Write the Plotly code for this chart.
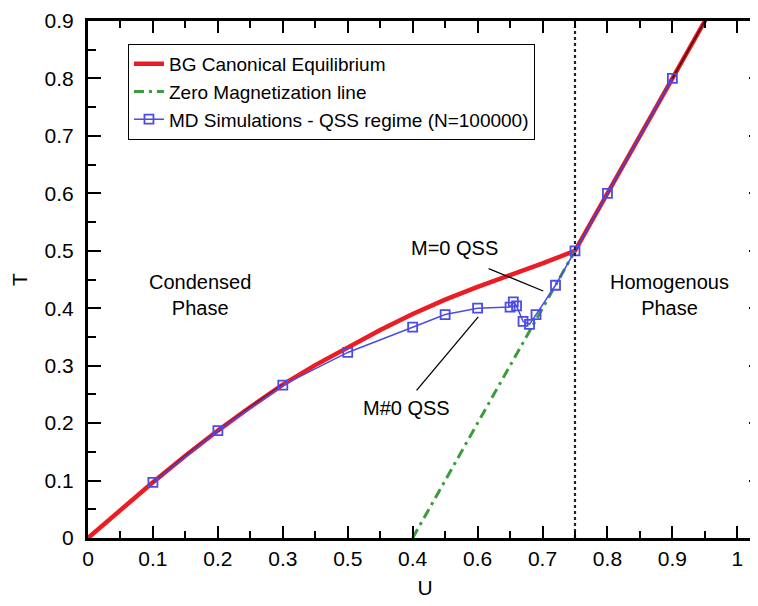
import plotly.graph_objects as go

# ---------------- data ----------------
bg_u = [0.0, 0.05, 0.1, 0.15, 0.2, 0.25, 0.3, 0.35, 0.4, 0.45, 0.5, 0.55, 0.6, 0.65, 0.7, 0.75, 0.8, 0.85, 0.9, 0.96]
bg_t = [0.0, 0.049, 0.097, 0.143, 0.187, 0.228, 0.267, 0.301, 0.332, 0.362, 0.39, 0.415, 0.437, 0.457, 0.478, 0.5, 0.6, 0.7, 0.8, 0.92]

dark_u = [0.1, 0.15, 0.2, 0.25, 0.3, None, 0.75, 0.8, 0.85, 0.9, 0.96]
dark_t = [0.097, 0.143, 0.187, 0.228, 0.267, None, 0.5, 0.6, 0.7, 0.8, 0.92]

zm_u = [0.5, 0.75]
zm_t = [0.0, 0.5]

md_u = [0.1, 0.2, 0.3, 0.4, 0.5, 0.55, 0.6, 0.65, 0.655, 0.66, 0.67, 0.68, 0.69, 0.72, 0.75, 0.8, 0.9]
md_t = [0.097, 0.187, 0.266, 0.323, 0.367, 0.389, 0.4, 0.402, 0.411, 0.404, 0.377, 0.372, 0.389, 0.44, 0.5, 0.6, 0.8]

uc = [0.75, 0.75]
uc_t = [0.0, 0.9]

x_tickvals = [0, 0.1, 0.2, 0.3, 0.4, 0.5, 0.6, 0.7, 0.8, 0.9, 1.0]
x_ticktext = ["0", "0.1", "0.2", "0.3", "0.5", "0.4", "0.6", "0.7", "0.8", "0.9", "1"]
y_tickvals = [0, 0.1, 0.2, 0.3, 0.4, 0.5, 0.6, 0.7, 0.8, 0.9]

# annotation labels and pointers
region_labels = [("Condensed<br>Phase", 0.173, 0.423), ("Homogenous<br>Phase", 0.896, 0.423)]
qss_labels = [("M=0 QSS", 0.564, 0.505), ("M#0 QSS", 0.491, 0.227)]
ptr_m0_u = [0.617, 0.701]
ptr_m0_t = [0.469, 0.430]
ptr_mn_u = [0.506, 0.601]
ptr_mn_t = [0.257, 0.385]

FONT = "Liberation Sans, Arial, Helvetica, sans-serif"
RED = "#ec1c24"
GREEN = "#3a9d3a"
BLUE = "#4b4bea"

fig = go.Figure()

fig.add_trace(go.Scatter(x=bg_u, y=bg_t, mode="lines", name="BG Canonical Equilibrium",
                         line=dict(color=RED, width=4.5), hoverinfo="skip"))
fig.add_trace(go.Scatter(x=dark_u, y=dark_t, mode="lines", showlegend=False,
                         line=dict(color="rgba(20,0,0,0.75)", width=1.6), hoverinfo="skip"))
fig.add_trace(go.Scatter(x=zm_u, y=zm_t, mode="lines", name="Zero Magnetization line",
                         line=dict(color=GREEN, width=3, dash="10px,5px,3px,5px"), hoverinfo="skip"))
fig.add_trace(go.Scatter(x=md_u, y=md_t, mode="lines+markers", name="MD Simulations - QSS regime (N=100000)",
                         line=dict(color=BLUE, width=1.5),
                         marker=dict(symbol="square-open", size=9, color=BLUE, line=dict(width=1.8))))
fig.add_trace(go.Scatter(x=uc, y=uc_t, mode="lines", showlegend=False,
                         line=dict(color="#222222", width=2.2, dash="3px,3px"), hoverinfo="skip"))
fig.add_trace(go.Scatter(x=ptr_m0_u, y=ptr_m0_t, mode="lines", showlegend=False,
                         line=dict(color="black", width=1.3), hoverinfo="skip"))
fig.add_trace(go.Scatter(x=ptr_mn_u, y=ptr_mn_t, mode="lines", showlegend=False,
                         line=dict(color="black", width=1.3), hoverinfo="skip"))

for txt, ux, ty in region_labels + qss_labels:
    fig.add_annotation(x=ux, y=ty, text=txt, showarrow=False, xref="x", yref="y",
                       font=dict(family=FONT, size=20, color="black"))

fig.update_layout(
    width=758, height=606,
    margin=dict(l=80, r=1, t=6, b=76),
    plot_bgcolor="white", paper_bgcolor="white",
    font=dict(family=FONT, color="black"),
    legend=dict(x=0.059, y=0.956, xanchor="left", yanchor="top",
                bordercolor="black", borderwidth=1.2, bgcolor="white",
                font=dict(family=FONT, size=19, color="black"),
                itemwidth=30, tracegroupgap=0),
    xaxis=dict(range=[0, 1.038], tickvals=x_tickvals, ticktext=x_ticktext,
               showline=True, linewidth=3, linecolor="black", mirror="allticks",
               ticks="inside", ticklen=12, tickwidth=2.2, tickcolor="black",
               minor=dict(dtick=0.05, ticks="inside", ticklen=7, tickwidth=2, tickcolor="black"),
               showgrid=False, zeroline=False, ticklabeloverflow="allow",
               tickfont=dict(family=FONT, size=21), ticklabelstandoff=0,
               title=dict(text="U", font=dict(family=FONT, size=21), standoff=12)),
    yaxis=dict(range=[0, 0.9], tickvals=y_tickvals,
               showline=True, linewidth=3, linecolor="black", mirror="allticks",
               ticks="inside", ticklen=13, tickwidth=2.2, tickcolor="black",
               minor=dict(dtick=0.05, ticks="inside", ticklen=8, tickwidth=2, tickcolor="black"),
               showgrid=False, zeroline=False, ticklabeloverflow="allow",
               tickfont=dict(family=FONT, size=21), ticklabelstandoff=7,
               title=dict(text="T", font=dict(family=FONT, size=21), standoff=12)),
)

fig.write_html("out.html")
